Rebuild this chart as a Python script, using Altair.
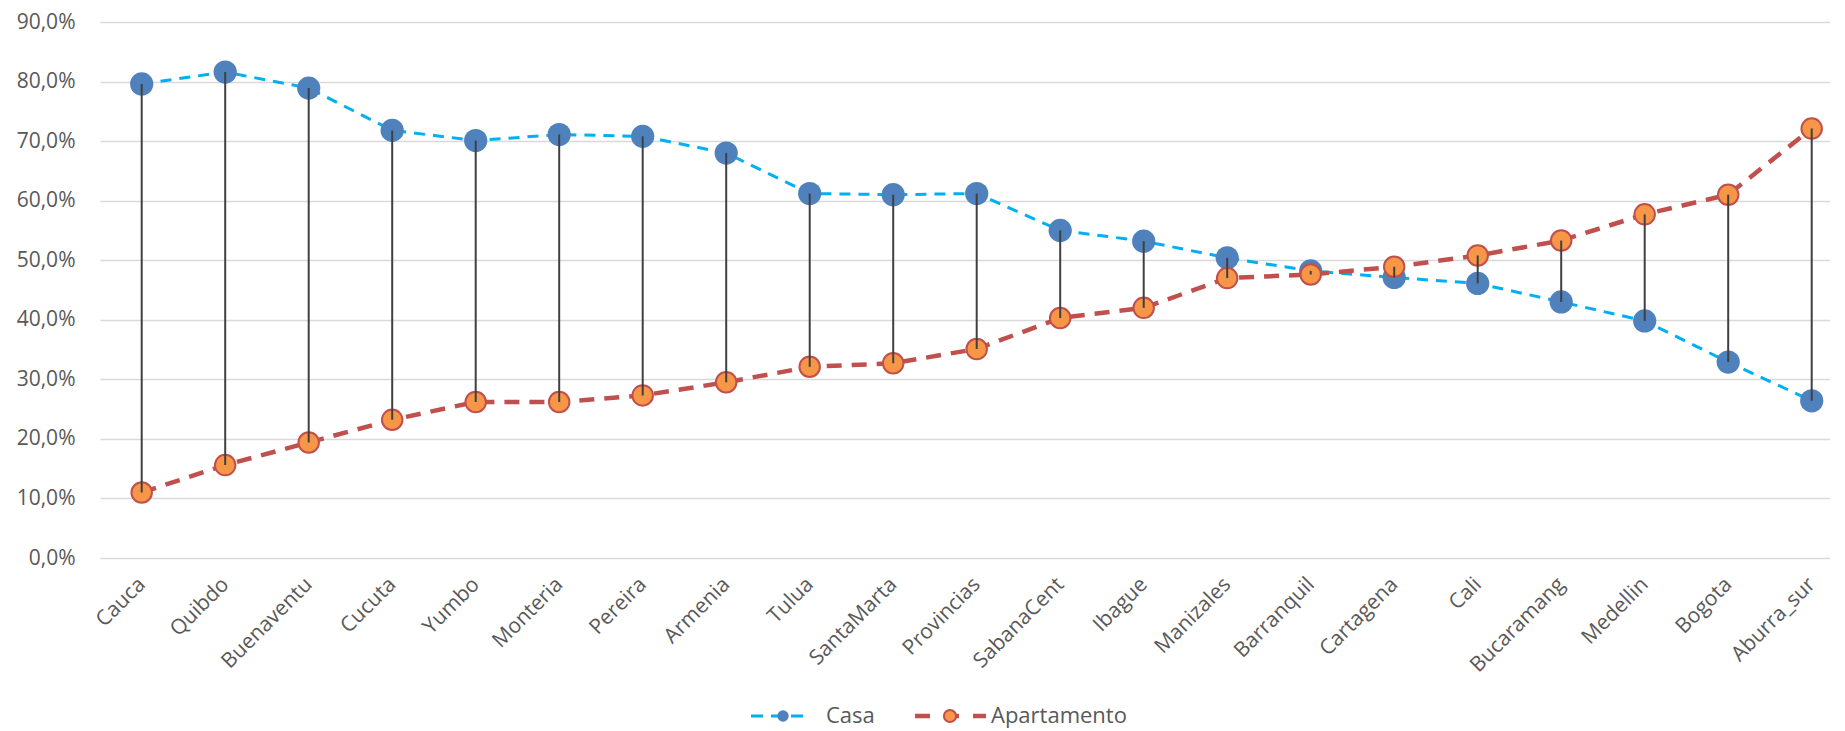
import altair as alt
import json
import pandas as pd

# ---- data ----
categories = ["Cauca", "Quibdo", "Buenaventu", "Cucuta", "Yumbo", "Monteria", "Pereira",
              "Armenia", "Tulua", "SantaMarta", "Provincias", "SabanaCent", "Ibague",
              "Manizales", "Barranquil", "Cartagena", "Cali", "Bucaramang", "Medellin",
              "Bogota", "Aburra_sur"]
casa = [79.6, 81.6, 78.9, 71.8, 70.1, 71.1, 70.8, 68.0, 61.2, 61.0, 61.2, 55.0, 53.2,
        50.4, 48.2, 47.1, 46.1, 43.0, 39.8, 32.9, 26.4]
apartamento = [11.0, 15.6, 19.4, 23.2, 26.2, 26.2, 27.3, 29.5, 32.1, 32.7, 35.1, 40.3, 42.0,
               47.0, 47.6, 48.9, 50.8, 53.3, 57.7, 61.0, 72.1]
series_names = ["Casa", "Apartamento"]
y_ticks = [0, 10, 20, 30, 40, 50, 60, 70, 80, 90]

FONT = "Open Sans"
TXT = "#595959"

df = pd.DataFrame({"idx": list(range(len(categories))), "ciudad": categories,
                   "Casa": casa, "Apartamento": apartamento})

W = 1730
STEP = 83.5
x_min = -41.7 / STEP
x_max = x_min + W / STEP

x_enc = alt.X(
    "idx:Q", title=None,
    scale=alt.Scale(domain=[x_min, x_max], nice=False, zero=False),
    axis=alt.Axis(values=list(range(len(categories))),
                  labelExpr=json.dumps(categories) + "[round(datum.value)]",
                  labelAngle=-45, labelAlign="right", labelBaseline="middle",
                  labelFontSize=21, labelFont=FONT, labelColor=TXT, labelPadding=23,
                  labelFlush=False, labelOverlap=False, labelBound=False,
                  ticks=False, domain=False, grid=False),
)


def y_enc(field):
    return alt.Y(
        f"{field}:Q", title=None,
        scale=alt.Scale(domain=[0, 90], nice=False, zero=True),
        axis=alt.Axis(values=y_ticks, labelExpr="replace(format(datum.value, '.1f'), '.', ',') + '%'",
                      labelFontSize=21, labelFont=FONT, labelColor=TXT, labelPadding=25,
                      ticks=False, domain=False, grid=True, gridColor="#D9D9D9",
                      gridWidth=1.5),
    )


base = alt.Chart(df)

casa_line = base.mark_line(color="#00B0F0", strokeWidth=3, strokeDash=[11, 8]).encode(
    x=x_enc, y=y_enc(series_names[0]))
casa_pts = base.mark_circle(size=540, color="#4F81BD", opacity=1).encode(
    x=x_enc, y=y_enc(series_names[0]))
apt_line = base.mark_line(color="#C0504D", strokeWidth=4.5, strokeDash=[15, 10]).encode(
    x=x_enc, y=y_enc(series_names[1]))
apt_pts = base.mark_point(shape="circle", filled=True, size=420, fill="#F79646",
                          stroke="#C0504D", strokeWidth=2, opacity=1).encode(
    x=x_enc, y=y_enc(series_names[1]))
hl = base.mark_rule(color="#404040", strokeWidth=2).encode(
    x=x_enc, y=y_enc(series_names[0]), y2=alt.Y2(series_names[1]))

# ---- manual legend (line + marker + label) ----
LEG_Y = 694
leg_casa = pd.DataFrame({"label": [series_names[0]]})
leg_apt = pd.DataFrame({"label": [series_names[1]]})

legend_layers = [
    alt.Chart(leg_casa).mark_rule(color="#00B0F0", strokeWidth=3, strokeDash=[12, 8]).encode(
        x=alt.value(651), x2=alt.value(708), y=alt.value(LEG_Y)),
    alt.Chart(leg_casa).mark_circle(size=130, color="#4F81BD", opacity=1).encode(
        x=alt.value(683), y=alt.value(LEG_Y)),
    alt.Chart(leg_casa).mark_text(align="left", baseline="middle", fontSize=22, font=FONT,
                                  color=TXT).encode(
        x=alt.value(726), y=alt.value(LEG_Y), text="label:N"),
    alt.Chart(leg_apt).mark_rule(color="#C0504D", strokeWidth=4.5, strokeDash=[15, 14]).encode(
        x=alt.value(815), x2=alt.value(886), y=alt.value(LEG_Y)),
    alt.Chart(leg_apt).mark_point(shape="circle", filled=True, size=150, fill="#F79646",
                                  stroke="#C0504D", strokeWidth=2, opacity=1).encode(
        x=alt.value(850), y=alt.value(LEG_Y)),
    alt.Chart(leg_apt).mark_text(align="left", baseline="middle", fontSize=22, font=FONT,
                                 color=TXT).encode(
        x=alt.value(891), y=alt.value(LEG_Y), text="label:N"),
]

chart = alt.layer(casa_line, casa_pts, apt_line, apt_pts, hl, *legend_layers).properties(
    width=W, height=536,
    padding={"left": 92, "top": 14, "right": 0, "bottom": 176},
    autosize=alt.AutoSizeParams(type="none"),
    background="white",
).configure_view(stroke=None)

chart.save("out.html", embed_options={"renderer": "svg", "actions": False})
